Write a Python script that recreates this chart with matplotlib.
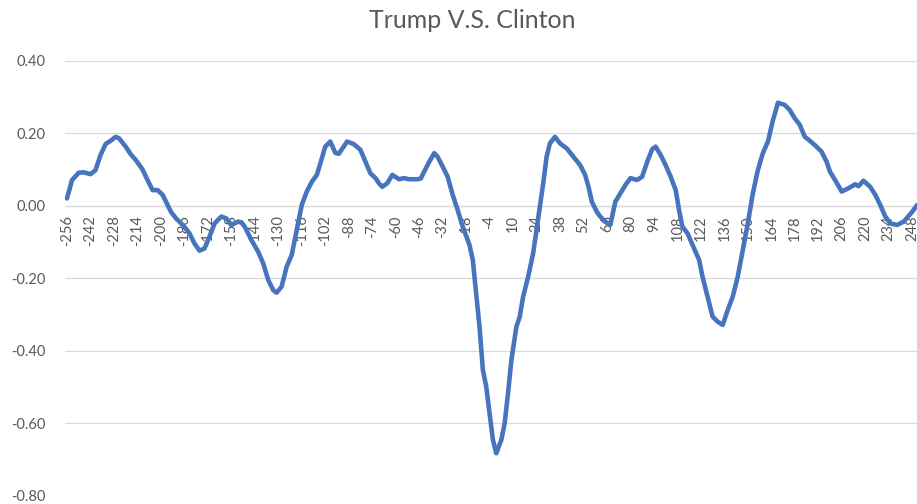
import matplotlib
matplotlib.use("Agg")
import matplotlib.pyplot as plt
import numpy as np

title = "Trump V.S. Clinton"

x_lag = [-256, -253, -249, -246, -242, -239, -236, -233, -230, -227, -225, -221, -218, -215,
         -211, -208, -205, -202, -199, -196, -194, -191, -187, -183, -180, -177, -174, -171,
         -168, -164, -161, -158, -154, -152, -150, -146, -142, -139, -136, -133, -131, -128,
         -125, -122, -119, -116, -113, -110, -107, -104, -102, -99, -96, -94, -91, -89, -85,
         -81, -78, -75, -72, -70, -68, -65, -62, -58, -55, -52, -47, -45, -43, -40, -37, -35,
         -32, -29, -26, -23, -20, -16, -14, -12, -10, -8, -6, -4, -2, 0, 3, 5, 7, 9, 12, 14,
         16, 19, 22, 24, 26, 28, 30, 32, 35, 38, 42, 46, 50, 53, 55, 57, 60, 62, 65, 68, 71,
         74, 77, 80, 84, 87, 90, 93, 95, 98, 101, 104, 107, 109, 111, 114, 117, 121, 123, 126,
         129, 132, 135, 138, 141, 144, 147, 150, 153, 156, 159, 162, 165, 168, 172, 175, 178,
         181, 184, 187, 190, 194, 197, 199, 202, 206, 210, 214, 216, 219, 223, 226, 229, 232,
         235, 239, 243, 248, 251]

correlation = [0.020, 0.071, 0.091, 0.092, 0.087, 0.098, 0.140, 0.170, 0.179, 0.190, 0.186,
               0.163, 0.142, 0.126, 0.100, 0.071, 0.043, 0.043, 0.030, 0.002, -0.017, -0.035,
               -0.053, -0.076, -0.104, -0.124, -0.118, -0.085, -0.049, -0.030, -0.035, -0.053,
               -0.044, -0.046, -0.058, -0.095, -0.127, -0.159, -0.205, -0.233, -0.240, -0.223,
               -0.168, -0.136, -0.067, 0.002, 0.039, 0.066, 0.085, 0.131, 0.163, 0.177, 0.146,
               0.143, 0.163, 0.177, 0.170, 0.154, 0.121, 0.089, 0.076, 0.062, 0.052, 0.062,
               0.085, 0.073, 0.076, 0.073, 0.073, 0.075, 0.094, 0.121, 0.145, 0.135, 0.108,
               0.080, 0.030, -0.012, -0.058, -0.108, -0.150, -0.242, -0.334, -0.453, -0.499,
               -0.573, -0.646, -0.683, -0.646, -0.600, -0.518, -0.426, -0.334, -0.306, -0.251,
               -0.196, -0.131, -0.067, -0.003, 0.062, 0.135, 0.172, 0.190, 0.172, 0.158, 0.135,
               0.112, 0.085, 0.052, 0.011, -0.017, -0.030, -0.044, -0.053, 0.011, 0.034, 0.057,
               0.076, 0.071, 0.080, 0.121, 0.156, 0.163, 0.140, 0.112, 0.080, 0.043, -0.012,
               -0.058, -0.076, -0.108, -0.150, -0.196, -0.251, -0.306, -0.320, -0.329, -0.288,
               -0.251, -0.196, -0.122, -0.049, 0.034, 0.098, 0.145, 0.177, 0.236, 0.284, 0.278,
               0.264, 0.241, 0.223, 0.190, 0.179, 0.167, 0.149, 0.121, 0.094, 0.071, 0.039,
               0.048, 0.059, 0.054, 0.069, 0.052, 0.030, 0.002, -0.030, -0.049, -0.053, -0.044,
               -0.017, 0.002]

x_ticks = list(range(-256, 249, 14))
y_ticks = [-0.8, -0.6, -0.4, -0.2, 0.0, 0.2, 0.4]

plt.rcParams['font.family'] = ['Lato', 'DejaVu Sans']
W, H = 917, 504
fig = plt.figure(figsize=(W / 100, H / 100), dpi=100)
left, right = 65, 917
top, bottom = 60.7, 495.7
ax = fig.add_axes([left / W, 1 - bottom / H, (right - left) / W, (bottom - top) / H])

ax.plot(x_lag, correlation, color='#4775BD', lw=3.3, solid_capstyle='round',
        solid_joinstyle='round', zorder=3, clip_on=False)

ax.set_xlim(-257.2, 250.9)
ax.set_ylim(-0.8, 0.4)
ax.set_yticks(y_ticks)
ax.set_yticklabels([f"{v:.2f}" for v in y_ticks])
ax.set_xticks(x_ticks)
ax.set_xticklabels([str(v) for v in x_ticks])

ax.grid(axis='y', color='#D9D9D9', lw=0.9)
ax.set_axisbelow(True)
for s in ['top', 'right', 'left']:
    ax.spines[s].set_visible(False)
ax.spines['bottom'].set_position(('data', 0))
ax.spines['bottom'].set_color('#D9D9D9')
ax.spines['bottom'].set_linewidth(0.9)

ax.tick_params(axis='both', length=0, colors='#595959', labelsize=10.5)
ax.tick_params(axis='x', pad=7, labelrotation=90)
ax.tick_params(axis='y', pad=14)

fig.text(472 / W, 1 - 20 / H, title, ha='center', va='center', fontsize=18, color='#595959')

fig.savefig('out.png', dpi=100)
